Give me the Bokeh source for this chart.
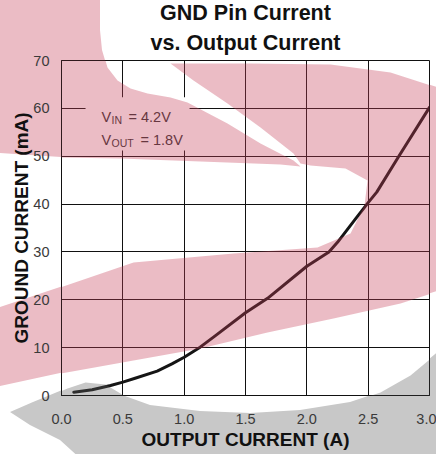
import base64
from bokeh.plotting import figure
from bokeh.models import Range1d, FixedTicker, Title, Label, BoxAnnotation, PolyAnnotation
from bokeh.embed import file_html
from bokeh.resources import INLINE

# ---- data ----
output_current = [0.1, 0.25, 0.4, 0.5, 0.6, 0.78, 0.9, 1.0, 1.13, 1.25, 1.5, 1.68,
                  2.0, 2.18, 2.25, 2.4, 2.5, 2.57, 2.75, 3.0]
ground_current = [0.7, 1.2, 2.1, 2.8, 3.6, 5.1, 6.6, 8.0, 10.1, 12.4, 17.3, 20.3,
                  27.0, 30.0, 32.0, 37.0, 40.3, 42.5, 50.0, 60.2]

x_ticks = [0.0, 0.5, 1.0, 1.5, 2.0, 2.5, 3.0]
x_tick_labels = ["0.0", "0.5", "1.0", "1.5", "2.0", "2.5", "3.0"]
y_ticks = [0, 10, 20, 30, 40, 50, 60, 70]
y_tick_labels = ["0", "10", "20", "30", "40", "50", "60", "70"]

title_lines = ["GND Pin Current", "vs. Output Current"]
x_label = "OUTPUT CURRENT (A)"
y_label = "GROUND CURRENT (mA)"
cond_main = ["V", "V"]
cond_sub = ["IN", "OUT"]
cond_rest = ["= 4.2V", "= 1.8V"]

# ---- decorative watermark (background logo), reference pixel geometry ----
REF_FRAME = (61, 429, 60, 395)      # frame left, right, top, bottom in px
WM_PINK = "#EBBCC5"                 # seen on white
WM_GRAY = "#C8C8C8"
WM_PINK_TINT = "#C64059"            # same colours as a translucent overlay
WM_GRAY_TINT = "#626262"
WM_ALPHA = 0.35
WM_PINK_A = [(0, 0), (100, 0), (100, 30), (102, 50), (107, 67), (117, 80), (130, 88),
             (147, 93), (170, 97), (187, 102), (227, 123), (260, 143), (293, 160),
             (300, 166), (280, 164), (200, 161), (120, 158), (61, 157), (30, 155),
             (0, 153)]
WM_PINK_B = [(170, 63), (250, 63), (330, 64), (390, 72), (440, 88), (440, 290),
             (400, 303), (333, 318), (267, 332), (200, 348), (133, 360), (60, 373),
             (0, 386), (0, 307), (60, 287), (133, 262), (233, 253), (317, 247),
             (350, 233), (364, 205), (367, 180), (345, 168), (310, 165), (300, 163),
             (293, 153), (260, 127), (227, 103), (193, 80)]
WM_GRAY_C = [(10, 412), (33, 402), (67, 388), (85, 382), (105, 384), (125, 396),
             (150, 405), (200, 411), (250, 413), (300, 410), (350, 402), (380, 392),
             (410, 375), (440, 350), (440, 470), (93, 470), (60, 440), (30, 425)]
WM_SHAPES = [(WM_PINK_A, WM_PINK, WM_PINK_TINT), (WM_PINK_B, WM_PINK, WM_PINK_TINT),
             (WM_GRAY_C, WM_GRAY, WM_GRAY_TINT)]

FONT = "Liberation Sans"
W, H = 436, 454
X0, X1 = x_ticks[0], x_ticks[-1]
Y0, Y1 = y_ticks[0], y_ticks[-1]


def px_to_data(pts):
    l, r, t, b = REF_FRAME
    xs = [X0 + (px - l) / (r - l) * (X1 - X0) for px, _ in pts]
    ys = [Y0 + (b - py) / (b - t) * (Y1 - Y0) for _, py in pts]
    return xs, ys


def watermark_svg():
    parts = []
    for pts, col, _ in WM_SHAPES:
        pp = " ".join("%d,%d" % (x, y) for x, y in pts)
        parts.append("<polygon points='%s' fill='%s'/>" % (pp, col))
    svg = ("<svg xmlns='http://www.w3.org/2000/svg' width='%d' height='%d'>%s</svg>"
           % (W, H, "".join(parts)))
    return base64.b64encode(svg.encode()).decode()


l, r, t, b = REF_FRAME
p = figure(width=W, height=H, output_backend="svg", toolbar_location=None,
           x_range=Range1d(X0, X1), y_range=Range1d(Y0, Y1),
           min_border_left=l, min_border_right=W - r,
           min_border_top=t, min_border_bottom=H - b)

p.background_fill_color = "white"
p.border_fill_color = None
p.outline_line_color = "#111111"
p.outline_line_width = 1
p.styles = {
    "background-color": "white",
    "background-image": "url('data:image/svg+xml;base64,%s')" % watermark_svg(),
    "background-repeat": "no-repeat",
    "background-size": "%dpx %dpx" % (W, H),
}

# titles (p.title is the outer line, the added Title sits next to the frame)
p.title.text = title_lines[0]
p.title.align = "center"
p.title.text_font = FONT
p.title.text_font_size = "21.5px"
p.title.text_font_style = "bold"
p.title.text_color = "#111111"
p.title.standoff = -3
p.add_layout(Title(text=title_lines[1], align="center", text_font=FONT,
                   text_font_size="21.5px", text_font_style="bold",
                   text_color="#111111", standoff=11), "above")

# axes
for ax in (p.xaxis[0], p.yaxis[0]):
    ax.major_tick_out = 0
    ax.major_tick_in = 0
    ax.minor_tick_out = 0
    ax.minor_tick_in = 0
    ax.axis_line_color = "#111111"
    ax.major_label_text_font = FONT
    ax.major_label_text_font_size = "14.5px"
    ax.major_label_text_color = "#3a3a3a"
    ax.axis_label_text_font = FONT
    ax.axis_label_text_font_size = "19px"
    ax.axis_label_text_font_style = "bold"
    ax.axis_label_text_color = "#111111"

p.xaxis.ticker = FixedTicker(ticks=x_ticks)
p.xaxis.major_label_overrides = dict(zip(x_ticks, x_tick_labels))
p.xaxis.axis_label = x_label
p.xaxis.major_label_standoff = 18
p.xaxis.axis_label_standoff = 2

p.yaxis.ticker = FixedTicker(ticks=y_ticks)
p.yaxis.major_label_overrides = dict(zip(y_ticks, y_tick_labels))
p.yaxis.axis_label = y_label
p.yaxis.major_label_standoff = 12
p.yaxis.axis_label_standoff = -2

p.xgrid.ticker = FixedTicker(ticks=x_ticks)
p.ygrid.ticker = FixedTicker(ticks=y_ticks)
for g in (p.xgrid[0], p.ygrid[0]):
    g.grid_line_color = "#111111"
    g.grid_line_alpha = 1.0
    g.grid_line_width = 1

# curve
p.line(output_current, ground_current, line_color="#151515", line_width=3,
       line_join="round", line_cap="round")

# conditions box and text
p.add_layout(BoxAnnotation(left=0.196, right=1.044, bottom=51.2, top=62.3,
                           fill_color="white", fill_alpha=1.0, line_alpha=0))
cond_x = 0.326
cond_y = [58.1, 53.3]
sub_dx = 10
rest_dx = [27, 39]
for i in range(2):
    p.add_layout(Label(x=cond_x, y=cond_y[i], text=cond_main[i], text_font=FONT,
                       text_font_size="14.5px", text_color="#333333",
                       text_baseline="alphabetic"))
    p.add_layout(Label(x=cond_x, y=cond_y[i], x_offset=sub_dx, y_offset=-3,
                       text=cond_sub[i], text_font=FONT, text_font_size="10.5px",
                       text_color="#333333", text_baseline="alphabetic"))
    p.add_layout(Label(x=cond_x, y=cond_y[i], x_offset=rest_dx[i], text=cond_rest[i],
                       text_font=FONT, text_font_size="14.5px", text_color="#333333",
                       text_baseline="alphabetic"))

# translucent watermark over the plotting area (the page background carries it outside)
for pts, _, tint in WM_SHAPES:
    xs, ys = px_to_data(pts)
    p.add_layout(PolyAnnotation(xs=xs, ys=ys, fill_color=tint, fill_alpha=WM_ALPHA,
                                line_alpha=0, level="overlay"))

open("out.html", "w").write(file_html(p, INLINE))
